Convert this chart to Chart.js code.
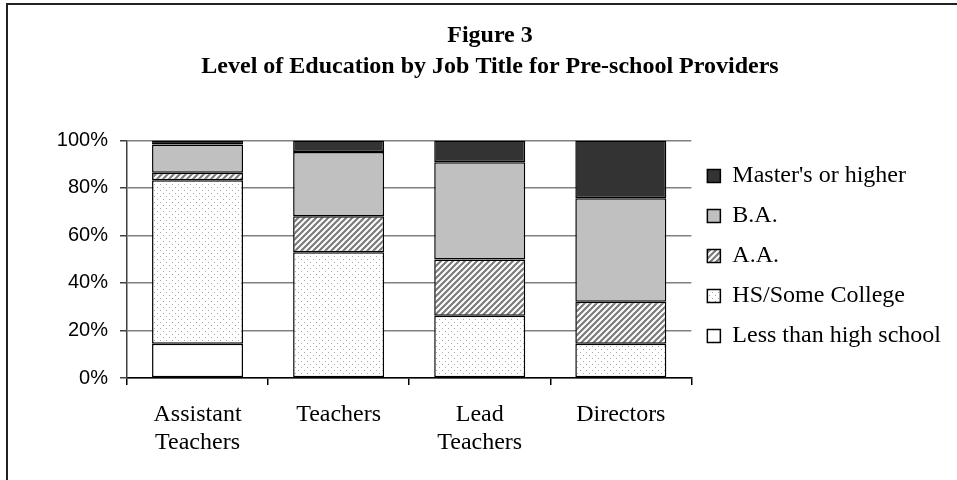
<!DOCTYPE html>
<html>
<head>
<meta charset="utf-8">
<script src="https://cdn.jsdelivr.net/npm/chart.js@4/dist/chart.umd.min.js"></script>
<style>
  html, body { margin: 0; padding: 0; background: #fff; }
  #wrap { position: relative; width: 957px; height: 480px; overflow: hidden; }
  #frame { position: absolute; left: 6px; top: 3px; width: 1200px; height: 1200px;
           border-left: 2px solid #222; border-top: 2px solid #222; box-sizing: border-box; }
  canvas { position: absolute; left: 0; top: 0; }
</style>
</head>
<body>
<div id="wrap">
  <div id="frame"></div>
  <canvas id="c" width="957" height="480"></canvas>
</div>
<script>
// ---- data ----
const categories = [['Assistant', 'Teachers'], 'Teachers', ['Lead', 'Teachers'], 'Directors'];
const lessThanHighSchool = [14.4, 0, 0, 0];
const hsSomeCollege = [68.8, 52.9, 26.2, 14.4];
const aaDegree = [3.2, 15.2, 23.7, 17.7];
const baDegree = [11.9, 27.0, 40.9, 43.5];
const mastersOrHigher = [1.7, 4.9, 9.2, 24.4];
const yTickValues = [0, 20, 40, 60, 80, 100];

// ---- fill patterns ----
function makePattern(size, draw) {
  const cv = document.createElement('canvas');
  cv.width = size; cv.height = size;
  const g = cv.getContext('2d');
  g.fillStyle = '#ffffff';
  g.fillRect(0, 0, size, size);
  draw(g, size);
  return g.createPattern(cv, 'repeat');
}
const hatch = makePattern(6, (g, s) => {
  g.strokeStyle = '#7a7a7a';
  g.lineWidth = 2.2;
  g.beginPath();
  g.moveTo(-1, s + 1); g.lineTo(s + 1, -1);
  g.moveTo(-1, 1); g.lineTo(1, -1);
  g.moveTo(s - 1, s + 1); g.lineTo(s + 1, s - 1);
  g.stroke();
});
const dots = makePattern(6, (g) => {
  g.fillStyle = '#a8a8a8';
  g.fillRect(1, 1, 1, 1);
  g.fillRect(4, 4, 1, 1);
});

const serif = "'Liberation Serif', 'Times New Roman', serif";
const sans = "'Liberation Sans', Arial, sans-serif";
const PAD_L = 29, PAD_R = 6, PAD_B = 20;

function ds(label, data, bg) {
  return {
    label, data, backgroundColor: bg,
    borderColor: '#000', borderWidth: 1.5, borderSkipped: false,
    barPercentage: 0.645, categoryPercentage: 1.0
  };
}

new Chart(document.getElementById('c'), {
  type: 'bar',
  data: {
    labels: categories,
    datasets: [
      ds('Less than high school', lessThanHighSchool, '#ffffff'),
      ds('HS/Some College', hsSomeCollege, dots),
      ds('A.A.', aaDegree, hatch),
      ds('B.A.', baDegree, '#c0c0c0'),
      ds("Master's or higher", mastersOrHigher, '#333333')
    ]
  },
  options: {
    responsive: false,
    animation: false,
    devicePixelRatio: 1,
    layout: { padding: { left: PAD_L, right: PAD_R, top: 0, bottom: PAD_B } },
    plugins: {
      title: {
        display: true,
        text: ['Figure 3', 'Level of Education by Job Title for Pre-school Providers'],
        color: '#000',
        font: { family: serif, size: 24, weight: 'bold', lineHeight: 1.3 },
        padding: { top: 20, bottom: 58 }
      },
      legend: {
        position: 'right',
        align: 'start',
        reverse: true,
        maxWidth: 400,
        title: {
          display: true,
          text: ' ',
          font: { family: serif, size: 10, lineHeight: 1 },
          padding: { top: 138, bottom: 0 }
        },
        labels: {
          color: '#000',
          font: { family: serif, size: 24 },
          boxWidth: 13, boxHeight: 13,
          padding: 16,
          useBorderRadius: false
        }
      },
      tooltip: { enabled: false }
    },
    scales: {
      x: {
        stacked: true,
        offset: true,
        grid: {
          offset: true,
          drawOnChartArea: true,
          color: (c) => (c.index === categories.length ? '#808080' : 'rgba(0,0,0,0)'),
          lineWidth: 1.5,
          tickColor: '#000',
          tickLength: 7
        },
        border: { display: true, color: '#000', width: 1.5 },
        ticks: {
          color: '#000',
          font: { family: serif, size: 24, lineHeight: 1.17 },
          padding: 16,
          maxRotation: 0, autoSkip: false
        },
        afterFit: (s) => { s.height = 480 - 378 - PAD_B; }
      },
      y: {
        stacked: true,
        min: 0, max: 100,
        afterBuildTicks: (s) => { s.ticks = yTickValues.map(v => ({ value: v })); },
        grid: { color: '#808080', lineWidth: 1.5, tickColor: '#404040', tickLength: 7 },
        border: { display: true, color: '#404040', width: 1.5 },
        ticks: {
          color: '#000',
          font: { family: sans, size: 20 },
          padding: 12,
          callback: (v) => v + '%'
        },
        afterFit: (s) => { s.width = 127 - PAD_L; }
      }
    }
  }
});
</script>
</body>
</html>
